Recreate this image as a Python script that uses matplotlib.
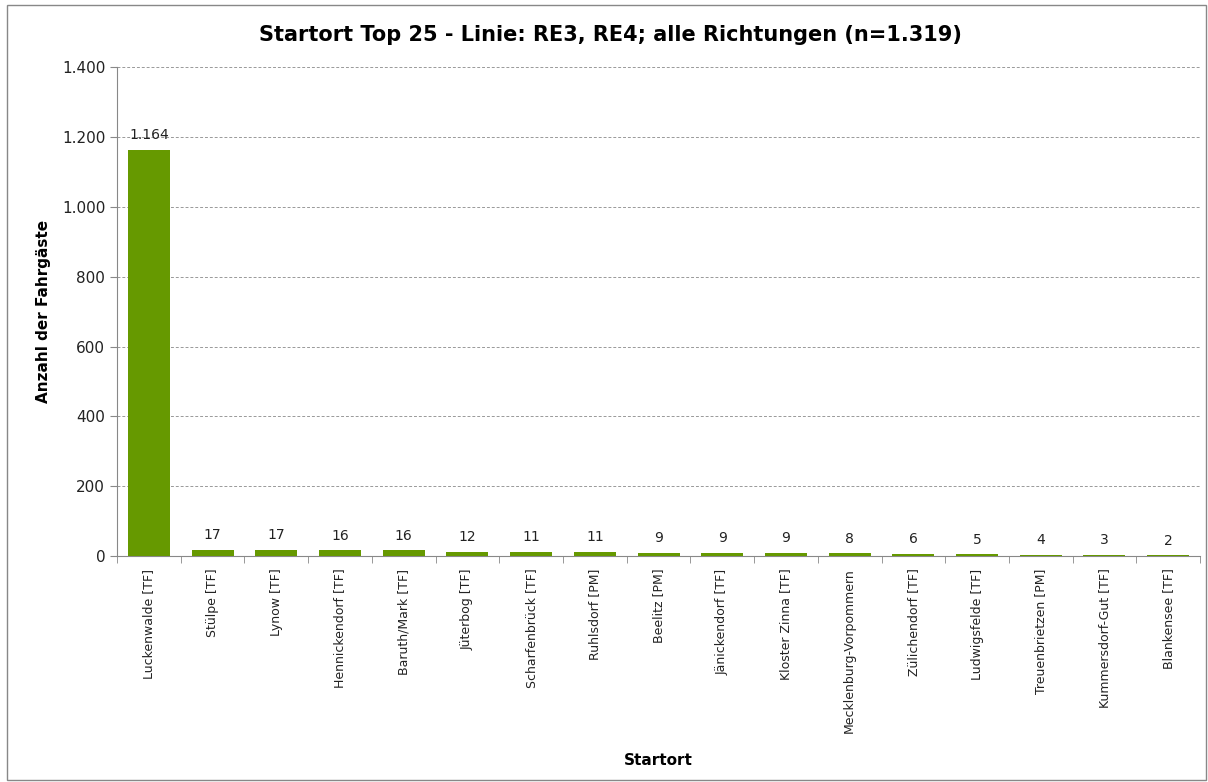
import matplotlib.pyplot as plt
from matplotlib.patches import Rectangle

plt.rcParams['font.family'] = ['Liberation Sans Narrow', 'DejaVu Sans']

orte = ['Luckenwalde [TF]', 'Stülpe [TF]', 'Lynow [TF]', 'Hennickendorf [TF]',
        'Baruth/Mark [TF]', 'Jüterbog [TF]', 'Scharfenbrück [TF]', 'Ruhlsdorf [PM]',
        'Beelitz [PM]', 'Jänickendorf [TF]', 'Kloster Zinna [TF]',
        'Mecklenburg-Vorpommern', 'Zülichendorf [TF]', 'Ludwigsfelde [TF]',
        'Treuenbrietzen [PM]', 'Kummersdorf-Gut [TF]', 'Blankensee [TF]']
fahrgaeste = [1164, 17, 17, 16, 16, 12, 11, 11, 9, 9, 9, 8, 6, 5, 4, 3, 2]
yticks = [0, 200, 400, 600, 800, 1000, 1200, 1400]
ytick_labels = ['0', '200', '400', '600', '800', '1.000', '1.200', '1.400']

fig = plt.figure(figsize=(12.08, 7.82), dpi=100)
ax = fig.add_axes([0.0969, 0.289, 0.8965, 0.625])

x = range(len(orte))
bars = ax.bar(x, fahrgaeste, width=0.66, color='#669900', zorder=3)
for xi, v in zip(x, fahrgaeste):
    lab = f'{v:,}'.replace(',', '.')
    ax.text(xi, v + 22, lab, ha='center', va='bottom', fontsize=10, color='#222222')

ax.set_xlim(-0.5, len(orte) - 0.5)
ax.set_ylim(0, 1400)
ax.set_yticks(yticks)
ax.set_yticklabels(ytick_labels, fontsize=11, color='#222222')
ax.set_xticks(list(x))
ax.set_xticklabels(orte, rotation=90, fontsize=9, color='#222222')
ax.set_xticks([i - 0.5 for i in range(len(orte) + 1)], minor=True)
ax.tick_params(axis='x', which='major', length=0, pad=9)
ax.tick_params(axis='x', which='minor', length=5, color='#888888', direction='out')
ax.tick_params(axis='y', length=5, color='#888888', direction='out')

ax.grid(axis='y', linestyle=(0, (3, 2)), color='#999999', linewidth=0.7, zorder=0)
for s in ['top', 'right']:
    ax.spines[s].set_visible(False)
for s in ['left', 'bottom']:
    ax.spines[s].set_color('#888888')

ax.set_ylabel('Anzahl der Fahrgäste', fontsize=11, fontweight='bold', labelpad=8)
fig.text(0.545, 0.028, 'Startort', ha='center', va='center', fontsize=11, fontweight='bold')
fig.text(0.505, 0.955, 'Startort Top 25 - Linie: RE3, RE4; alle Richtungen (n=1.319)',
         ha='center', va='center', fontsize=15, fontweight='bold')

fig.patches.append(Rectangle((0.006, 0.003), 0.992, 0.991, transform=fig.transFigure,
                             fill=False, edgecolor='#888888', linewidth=1))

fig.savefig('out.png', dpi=100)
